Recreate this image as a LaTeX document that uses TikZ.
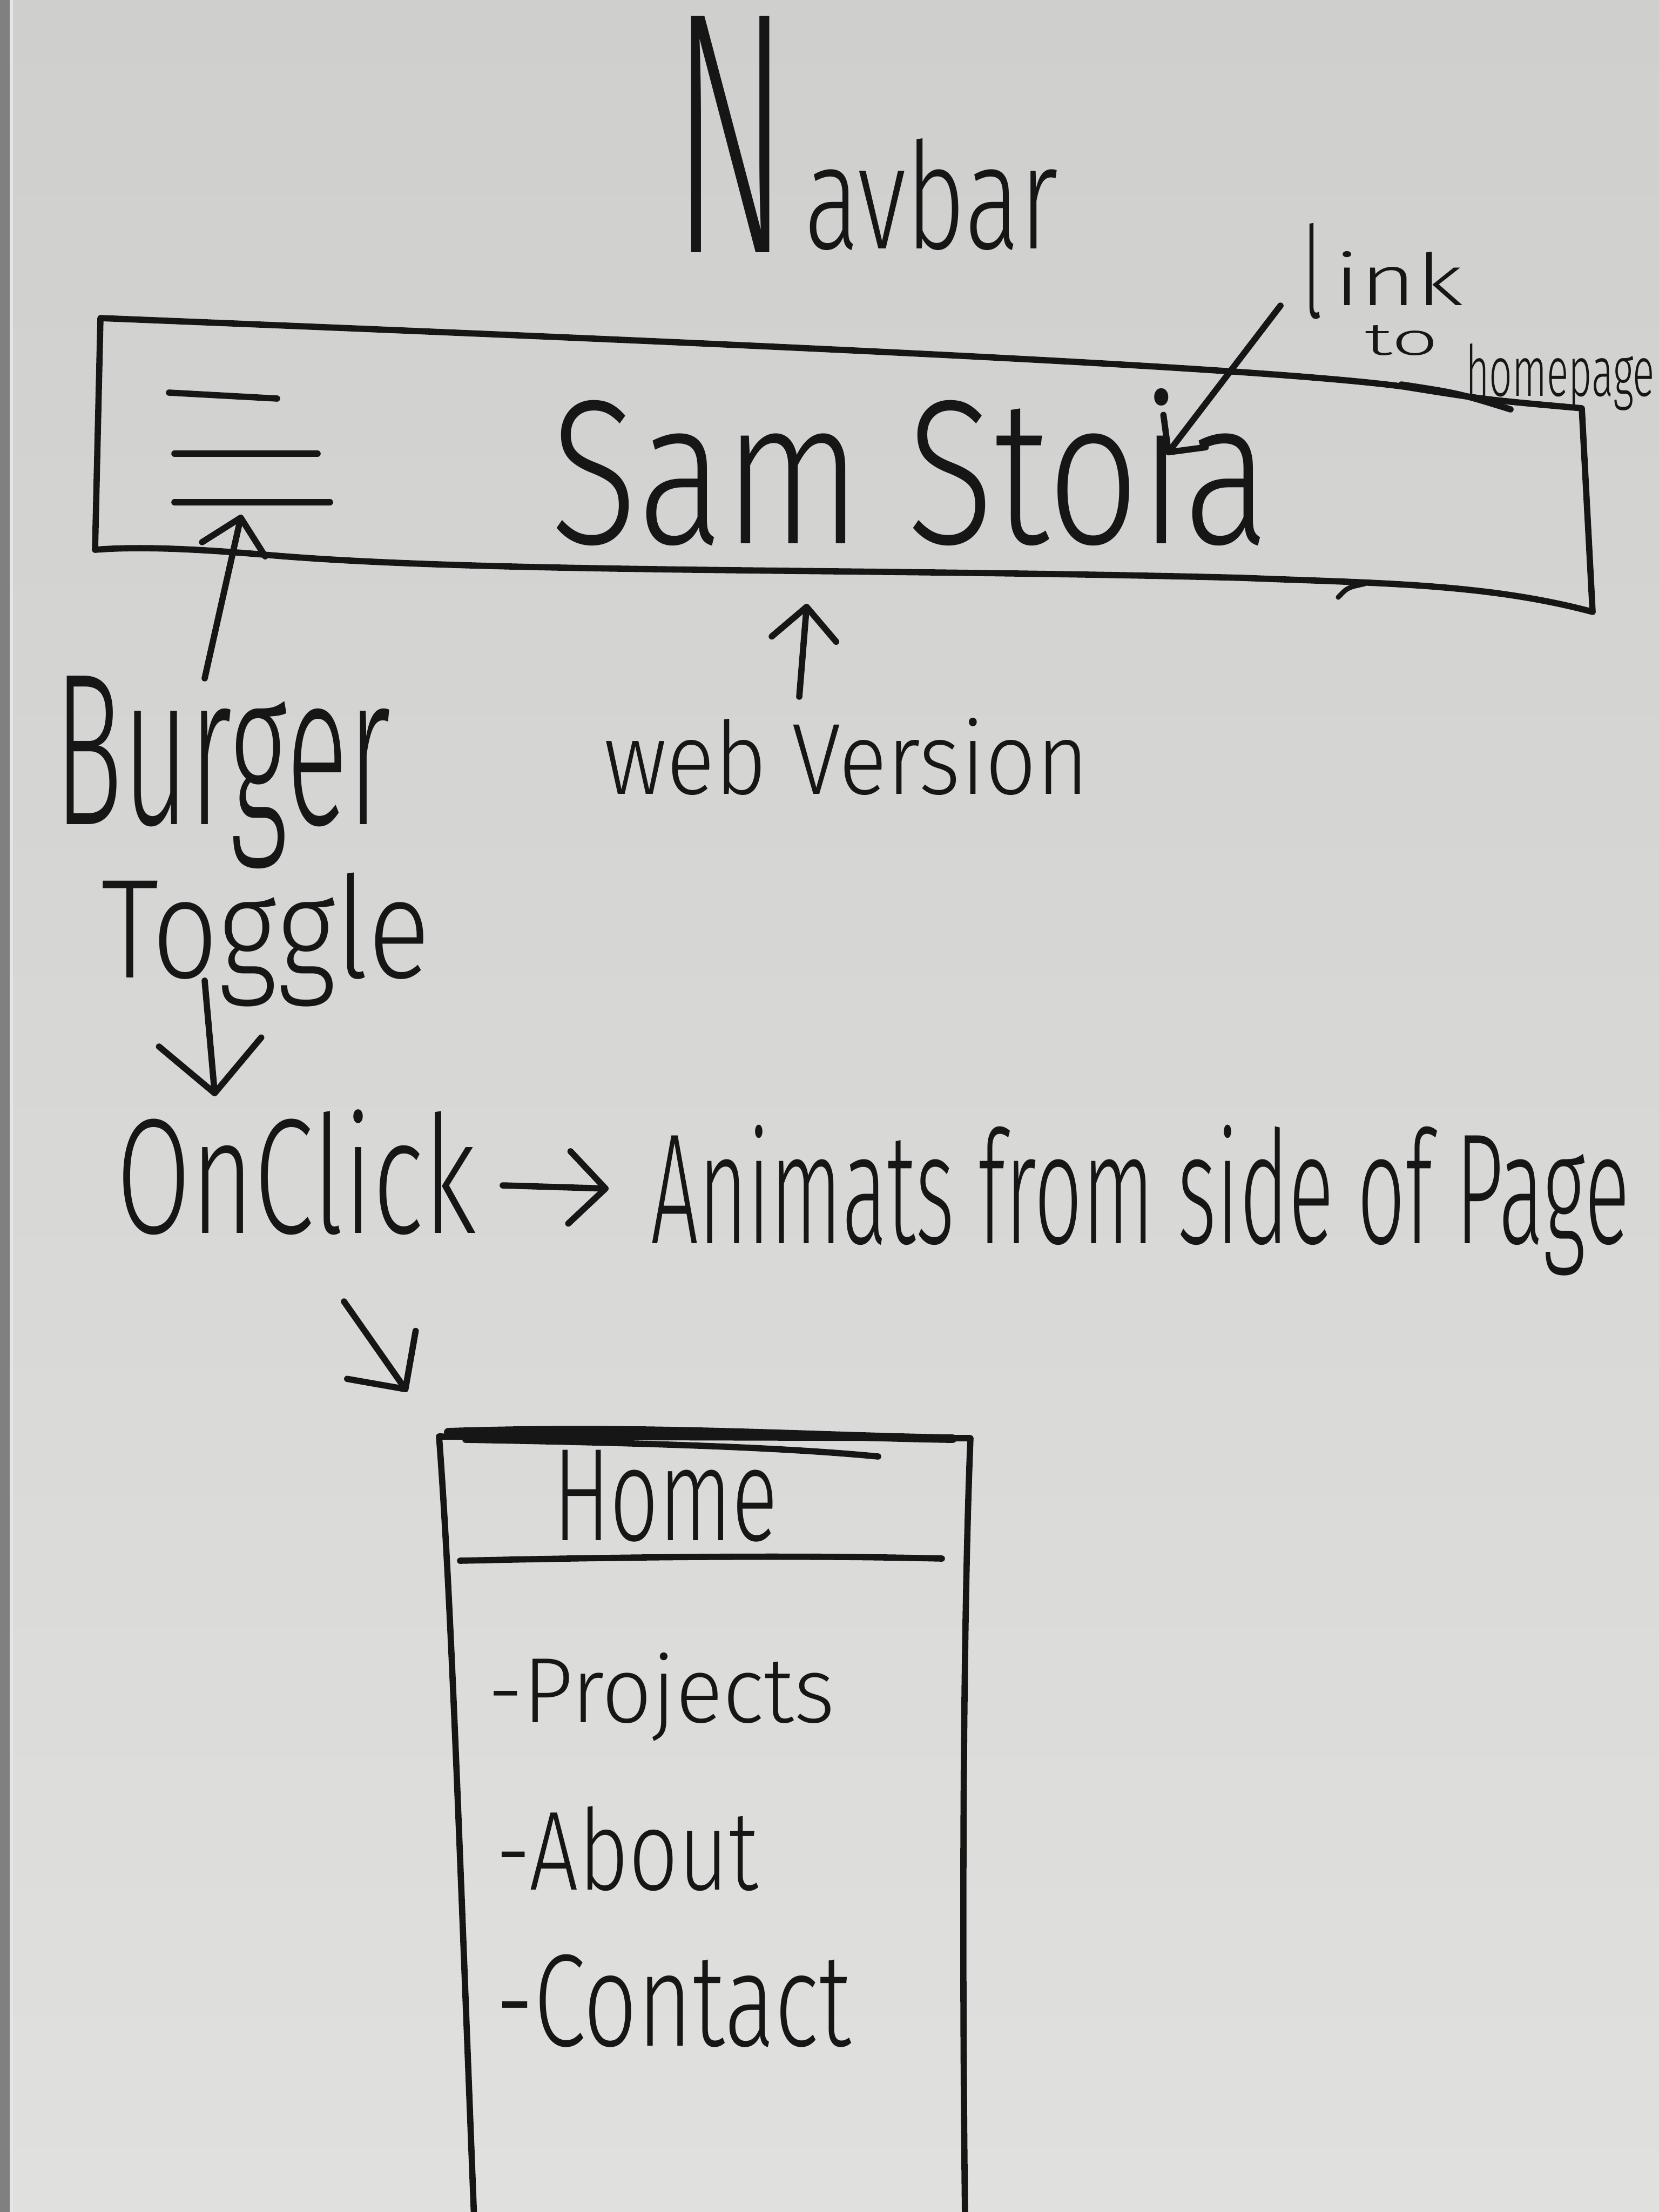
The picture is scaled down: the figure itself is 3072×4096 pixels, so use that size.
\documentclass[tikz,border=0pt]{standalone}
\usepackage{fontspec}
\setmainfont{Fira Sans}[UprightFont=* Light]
\usetikzlibrary{arrows.meta}
% one unit of the drawing = 0.01cm
\newlength\pxu \setlength\pxu{0.01cm}
% marker lettering squeezed into a given ink box (width, total height)
\newcommand\inkbox[3]{\resizebox*{#1\pxu}{#2\pxu}{#3}}
\definecolor{inkc}{HTML}{161616}
\definecolor{boardtop}{HTML}{CFCFCE}
\definecolor{boardbot}{HTML}{E0E0DE}
\begin{document}
\begin{tikzpicture}[x=0.01cm,y=-0.01cm,
  ink/.style={draw=inkc,line width=3.3pt,line cap=round,line join=round},
  lbl/.style={inner sep=0pt,outer sep=0pt,anchor=north west,text=inkc},
  tipA/.style={-{Straight Barb[length=#1,width=#1*2,round]}}]
\useasboundingbox (0,0) rectangle (3072,4096);
% whiteboard
\fill[top color=boardtop,bottom color=boardbot] (0,0) rectangle (3072,4096);
\fill[black!50] (0,0) rectangle (18,4096);
\fill[white!80!gray] (18,0) rectangle (24,4096);

% ---------- title ----------
\node[lbl] (navN) at (1244,30) {\inkbox{216}{437}{N}};
\node[lbl] (navRest) at (1489,256) {\inkbox{470}{207}{avbar}};

% ---------- navbar frame ----------
\coordinate (fTL) at (186,589);
\coordinate (fTR) at (2929,756);
\coordinate (fBR) at (2949,1133);
\coordinate (fBL) at (176,1018);
\draw[ink] (fTL) .. controls (1200,630) and (2300,676) .. (2600,716)
  .. controls (2750,740) .. (fTR) -- (fBR)
  .. controls (2750,1080) and (2550,1080) .. (2300,1070)
  .. controls (1600,1052) and (900,1062) .. (500,1028)
  .. controls (350,1015) and (250,1012) .. (fBL) -- cycle;
\draw[ink] (2595,712) .. controls (2700,728) .. (2797,758);
\draw[ink,line width=2.6pt] (2478,1106) .. controls (2495,1088) .. (2527,1081);

% burger icon
\coordinate (hb1a) at (313,727); \coordinate (hb1b) at (513,738);
\coordinate (hb2a) at (323,840); \coordinate (hb2b) at (588,840);
\coordinate (hb3a) at (323,930); \coordinate (hb3b) at (611,930);
\draw[ink] (hb1a) -- (hb1b);
\draw[ink] (hb2a) -- (hb2b);
\draw[ink] (hb3a) -- (hb3b);

\node[lbl] (brand) at (1019,719) {\inkbox{1332}{291}{Sam Stoia}};

% ---------- link note ----------
\node[lbl] (lnkL) at (2412,413) {\inkbox{36}{178}{l}};
\node[lbl] (lnkRest) at (2470,465) {\inkbox{240}{100}{ink}};
\node[lbl] (lnkTo) at (2526,602) {\inkbox{138}{56}{to}};
\node[lbl] (lnkHome) at (2714,636) {\inkbox{350}{124}{homepage}};
\coordinate (lnkTail) at (2371,566);
\coordinate (lnkTip) at (2160,842);
\draw[ink,tipA=14pt] (lnkTail) -- (lnkTip);

% ---------- labels under the bar ----------
\node[lbl] (burger) at (100,1252) {\inkbox{623}{357}{Burger}};
\node[lbl] (toggle) at (187,1616) {\inkbox{610}{248}{Toggle}};
\node[lbl] (webver) at (1118,1329) {\inkbox{898}{143}{web Version}};

\coordinate (burgTail) at (379,1256);
\coordinate (burgTip) at (447,953);
\draw[ink,tipA=17pt] (burgTail) -- (burgTip);

\coordinate (webTail) at (1480,1290);
\coordinate (webTip) at (1494,1118);
\draw[ink,tipA=17pt] (webTail) -- (webTip);

\coordinate (togTail) at (379,1816);
\coordinate (togTip) at (398,2030);
\draw[ink,tipA=27pt] (togTail) -- (togTip);

% ---------- click behaviour ----------
\node[lbl] (click) at (215,2055) {\inkbox{667}{232}{OnClick}};
\node[lbl] (anim) at (1205,2083) {\inkbox{1812}{279}{Animats from side of Page}};
\coordinate (clkTail) at (931,2195);
\coordinate (clkTip) at (1127,2201);
\draw[ink,tipA=19pt] (clkTail) -- (clkTip);

\coordinate (dgTail) at (637,2410);
\coordinate (dgTip) at (754,2577);
\draw[ink,tipA=22pt] (dgTail) -- (dgTip);

% ---------- slide-out menu ----------
\coordinate (mTL) at (813,2660);
\coordinate (mTR) at (1797,2663);
\coordinate (mBL) at (878,4110);
\coordinate (mBR) at (1787,4110);
\draw[ink] (mBL) .. controls (850,3400) and (835,2950) .. (mTL) -- (mTR)
  .. controls (1785,2950) and (1780,3500) .. (mBR);
\draw[ink,line width=4.5pt] (830,2652) .. controls (1200,2640) and (1500,2660) .. (1764,2664);
\draw[ink] (862,2666) .. controls (1200,2672) and (1450,2680) .. (1626,2697);
\coordinate (divL) at (852,2890);
\coordinate (divR) at (1744,2886);
\draw[ink] (divL) .. controls (1200,2882) and (1500,2880) .. (divR);

\node[lbl] (mHome) at (1024,2685) {\inkbox{416}{170}{Home}};
\node[lbl] (mProj) at (903,3060) {\inkbox{643}{164}{-Projects}};
\node[lbl] (mAbout) at (918,3345) {\inkbox{486}{157}{-About}};
\node[lbl] (mContact) at (918,3619) {\inkbox{658}{172}{-Contact}};
\end{tikzpicture}
\end{document}
